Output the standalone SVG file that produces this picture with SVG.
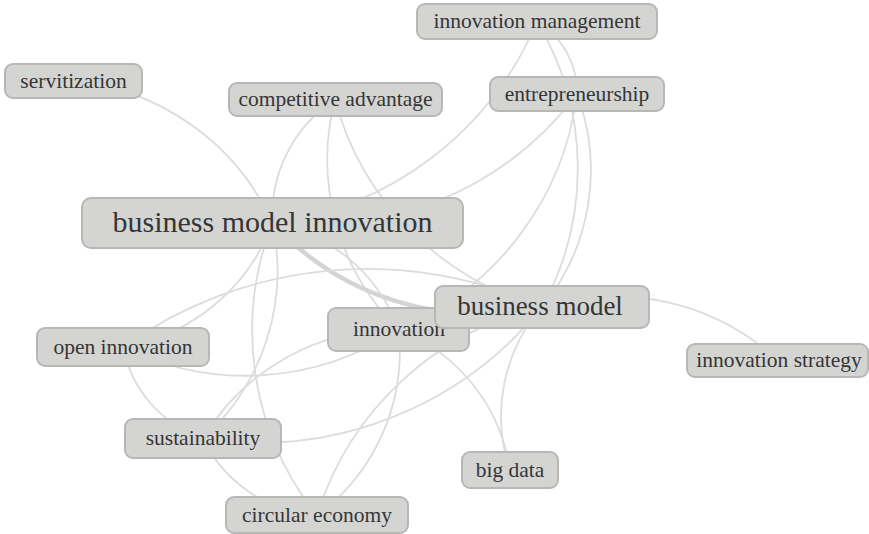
<svg xmlns="http://www.w3.org/2000/svg" width="869" height="534" viewBox="0 0 869 534">
<style>
.e{fill:none;stroke:#dcdcdc;stroke-width:1.8}
.t{stroke-width:4.5;stroke:#d4d4d4}
.n rect{fill:#d4d5d3;stroke:#b7b8b6;stroke-width:2}
.n text{fill:#353535;text-anchor:middle;font-size:21.5px}
</style>
<rect width="869" height="534" fill="#ffffff"/>
<g id="connectors">
<path class="e" d="M73.5,81 A244.5,244.5 0 0,1 272.5,223"/>
<path class="e" d="M272.5,223 A138.4,138.4 0 0,1 335,99.5"/>
<path class="e" d="M398.5,329.5 A238.6,238.6 0 0,1 335,99.5"/>
<path class="e" d="M542,307 A293.1,293.1 0 0,1 335,99.5"/>
<path class="e" d="M537,21.5 A332.5,332.5 0 0,1 272.5,223"/>
<path class="e" d="M577,94 A330.7,330.7 0 0,1 272.5,223"/>
<path class="e t" d="M542,307 A282.3,282.3 0 0,1 272.5,223"/>
<path class="e" d="M123,347 A420.9,420.9 0 0,1 542,307"/>
<path class="e" d="M398.5,329.5 A276.1,276.1 0 0,1 123,347"/>
<path class="e" d="M203,438.5 A121.5,121.5 0 0,1 123,347"/>
<path class="e" d="M542,307 A363.6,363.6 0 0,1 203,438.5"/>
<path class="e" d="M317,515.5 A137.6,137.6 0 0,1 203,438.5"/>
<path class="e" d="M317,515.5 A295.9,295.9 0 0,1 272.5,223"/>
<path class="e" d="M317,515.5 A306.8,306.8 0 0,1 542,307"/>
<path class="e" d="M398.5,329.5 A203.1,203.1 0 0,1 317,515.5"/>
<path class="e" d="M398.5,329.5 A179.4,179.4 0 0,1 510,470"/>
<path class="e" d="M510,470 A166.1,166.1 0 0,1 542,307"/>
<path class="e" d="M542,307 A242,242 0 0,1 778,360.5"/>
<path class="e" d="M537,21.5 A285.5,285.5 0 0,1 542,307"/>
<path class="e" d="M537,21.5 A82.8,82.8 0 0,1 577,94"/>
<path class="e" d="M577,94 A215.9,215.9 0 0,1 542,307"/>
<path class="e" d="M577,94 A295.5,295.5 0 0,1 398.5,329.5"/>
<path class="e" d="M272.5,223 A165,165 0 0,1 398.5,329.5"/>
<path class="e" d="M272.5,223 A194.2,194.2 0 0,1 123,347"/>
<path class="e" d="M272.5,223 A226.4,226.4 0 0,1 203,438.5"/>
<path class="e" d="M203,438.5 A223.8,223.8 0 0,1 398.5,329.5"/>
</g>
<g font-family="'Liberation Serif','DejaVu Serif',serif">
<g id="servitization" class="n"><rect x="5" y="64" width="137" height="34" rx="8"/><text x="73.5" y="87.5">servitization</text></g>
<g id="competitive-advantage" class="n"><rect x="229" y="83" width="213" height="33" rx="8"/><text x="335.5" y="106">competitive advantage</text></g>
<g id="innovation-management" class="n"><rect x="417" y="4" width="240" height="35" rx="8"/><text x="537" y="28">innovation management</text></g>
<g id="entrepreneurship" class="n"><rect x="490" y="77" width="174" height="34" rx="8"/><text x="577" y="100.5">entrepreneurship</text></g>
<g id="business-model-innovation" class="n"><rect x="82" y="198" width="381" height="50" rx="9"/><text x="272.5" y="232" style="font-size:30px">business model innovation</text></g>
<g id="innovation" class="n"><rect x="328" y="308" width="141" height="43" rx="8"/><text x="399" y="336">innovation</text></g>
<g id="business-model" class="n"><rect x="435" y="286" width="214" height="42" rx="8"/><text x="540" y="315" style="font-size:27px">business model</text></g>
<g id="innovation-strategy" class="n"><rect x="687" y="344" width="181" height="33" rx="8"/><text x="779" y="367">innovation strategy</text></g>
<g id="open-innovation" class="n"><rect x="37" y="328" width="172" height="38" rx="8"/><text x="123" y="353.5">open innovation</text></g>
<g id="sustainability" class="n"><rect x="125" y="419" width="156" height="39" rx="8"/><text x="203" y="445">sustainability</text></g>
<g id="circular-economy" class="n"><rect x="226" y="497" width="182" height="36" rx="8"/><text x="317" y="522">circular economy</text></g>
<g id="big-data" class="n"><rect x="462" y="452" width="96" height="36" rx="8"/><text x="510" y="477">big data</text></g>
</g>
</svg>
